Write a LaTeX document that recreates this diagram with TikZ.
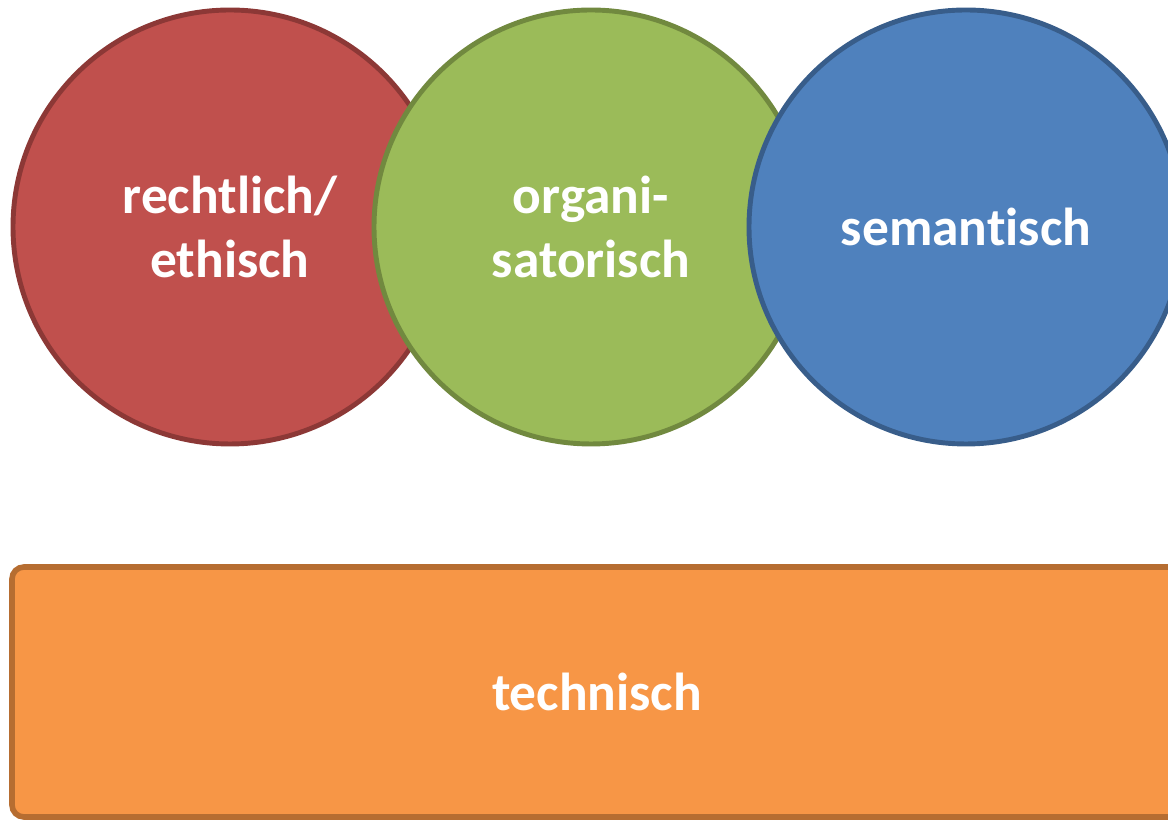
\documentclass[tikz,border=0pt]{standalone}
\usepackage{fontspec}
\setmainfont[Ligatures={NoCommon}]{Carlito}
\definecolor{redfill}{HTML}{C0504D}
\definecolor{redline}{HTML}{8C3836}
\definecolor{greenfill}{HTML}{9BBB59}
\definecolor{greenline}{HTML}{71893F}
\definecolor{bluefill}{HTML}{4F81BD}
\definecolor{blueline}{HTML}{385D8A}
\definecolor{orangefill}{HTML}{F79646}
\definecolor{orangeline}{HTML}{B66D31}

\begin{document}
\begin{tikzpicture}[
  aspect/.style={circle, draw, line width=1.4pt, minimum size=4.34cm, inner sep=0pt,
    align=center, text=white, font=\fontsize{15.2}{18}\selectfont\bfseries},
  base/.style={rectangle, draw, line width=1.6pt, rounded corners=0.12cm,
    minimum width=11.7cm, minimum height=2.5cm, text=white,
    font=\fontsize{15.2}{18}\selectfont\bfseries}]
\clip (0,0) rectangle (11.68,8.2);
\node[aspect, fill=redfill, draw=redline] (recht) at (2.30,5.93) {rechtlich/\\ethisch};
\node[aspect, fill=greenfill, draw=greenline] (org) at (5.91,5.93) {organi-\\satorisch};
\node[aspect, fill=bluefill, draw=blueline] (sem) at (9.66,5.93) {semantisch};
\node[base, fill=orangefill, draw=orangeline] (tech) at (5.97,1.28) {technisch};
\end{tikzpicture}
\end{document}
